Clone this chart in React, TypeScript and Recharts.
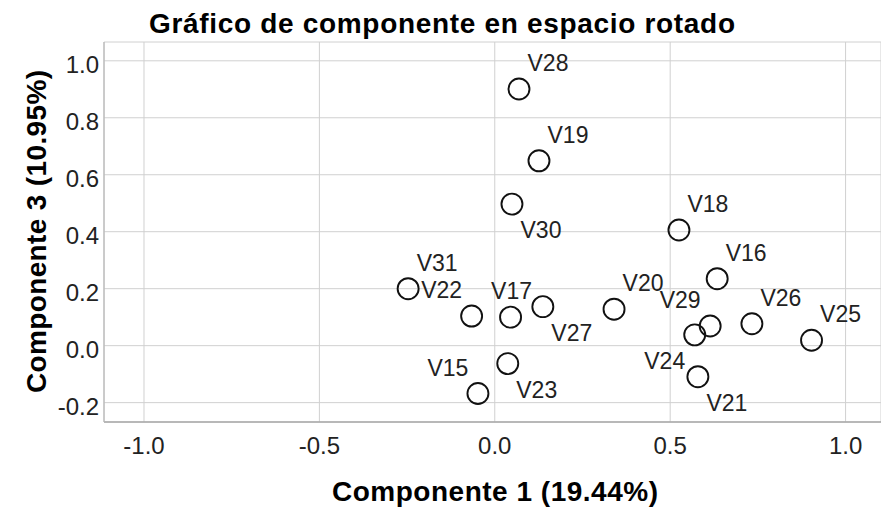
import React from 'react';
import { ScatterChart, Scatter, XAxis, YAxis, CartesianGrid } from 'recharts';

// rotated component loadings, one entry per variable
const variables = ['V15', 'V16', 'V17', 'V18', 'V19', 'V20', 'V21', 'V22', 'V23', 'V24', 'V25', 'V26', 'V27', 'V28', 'V29', 'V30', 'V31'];
const componente1 = [-0.048, 0.634, 0.045, 0.525, 0.126, 0.34, 0.579, -0.066, 0.037, 0.57, 0.903, 0.733, 0.137, 0.069, 0.614, 0.049, -0.247];
const componente3 = [-0.168, 0.235, 0.1, 0.406, 0.649, 0.128, -0.109, 0.104, -0.063, 0.038, 0.019, 0.077, 0.137, 0.901, 0.069, 0.497, 0.2];

const xTicks = [-1.0, -0.5, 0.0, 0.5, 1.0];
const yTicks = [-0.2, 0.0, 0.2, 0.4, 0.6, 0.8, 1.0];

// which corner of the circle each label is written at
const labelSide: Record<string, string> = {
    V15: 'nw', V16: 'ne', V17: 'n', V18: 'ne', V19: 'ne', V20: 'ne', V21: 'se', V22: 'nw', V23: 'se',
    V24: 'sw', V25: 'ne', V26: 'ne', V27: 'se', V28: 'ne', V29: 'nw', V30: 'se', V31: 'ne',
};

const FONT = '"Liberation Sans", Arial, Helvetica, sans-serif';

const points = variables.map((name, i) => ({ name, x: componente1[i], y: componente3[i] }));

const Marker = (props: any) => {
    const { cx, cy, payload } = props;
    const side = labelSide[payload.name] || 'ne';
    const dx = side === 'n' ? 1 : side.includes('e') ? 29 : -30;
    const dy = side.includes('s') ? 26 : -26;
    return (
        <g>
            <circle cx={cx} cy={cy} r={10.5} fill="none" stroke="#111" strokeWidth={1.9} />
            <text x={cx + dx} y={cy + dy + 8} textAnchor="middle" fontSize={23} fill="#222" fontFamily={FONT}>
                {payload.name}
            </text>
        </g>
    );
};

const XTick = (props: any) => {
    const { x, y, payload } = props;
    return (
        <text x={x} y={y + 32} textAnchor="middle" fontSize={24} fill="#222" fontFamily={FONT}>
            {Number(payload.value).toFixed(1)}
        </text>
    );
};

const YTick = (props: any) => {
    const { x, y, payload } = props;
    return (
        <text x={x} y={y + 12.5} textAnchor="end" fontSize={24} fill="#222" fontFamily={FONT}>
            {Number(payload.value).toFixed(1)}
        </text>
    );
};

export default function App() {
    return (
        <div style={{ position: 'absolute', left: 0, top: 0, width: 881, height: 508, background: '#fff' }}>
            <ScatterChart width={881} height={508} margin={{ top: 42, right: 0, bottom: 46, left: 4 }}>
                <CartesianGrid stroke="#d0d0d0" strokeWidth={1} />
                <XAxis
                    type="number"
                    dataKey="x"
                    domain={[-1.114, 1.101]}
                    ticks={xTicks}
                    interval={0}
                    allowDataOverflow
                    height={40}
                    tickSize={0}
                    tickMargin={0}
                    tickLine={false}
                    axisLine={{ stroke: '#a8a8a8', strokeWidth: 1.3 }}
                    tick={XTick}
                />
                <YAxis
                    type="number"
                    dataKey="y"
                    domain={[-0.268, 1.066]}
                    ticks={yTicks}
                    interval={0}
                    allowDataOverflow
                    width={100}
                    tickSize={0}
                    tickMargin={5}
                    tickLine={false}
                    axisLine={{ stroke: '#b8b8b8', strokeWidth: 1.2 }}
                    tick={YTick}
                />
                <Scatter data={points} shape={<Marker />} isAnimationActive={false} />
                <text x={442} y={33} textAnchor="middle" fontSize={28} fontWeight="bold" fill="#000" fontFamily={FONT}
                      textLength={586} lengthAdjust="spacing">
                    Gráfico de componente en espacio rotado
                </text>
                <text x={495} y={501} textAnchor="middle" fontSize={28} fontWeight="bold" fill="#000" fontFamily={FONT}
                      textLength={326} lengthAdjust="spacing">
                    Componente 1 (19.44%)
                </text>
                <text x={46} y={231.5} textAnchor="middle" fontSize={28} fontWeight="bold" fill="#000" fontFamily={FONT}
                      textLength={323} lengthAdjust="spacing" transform="rotate(-90 46 231.5)">
                    Componente 3 (10.95%)
                </text>
            </ScatterChart>
        </div>
    );
}
